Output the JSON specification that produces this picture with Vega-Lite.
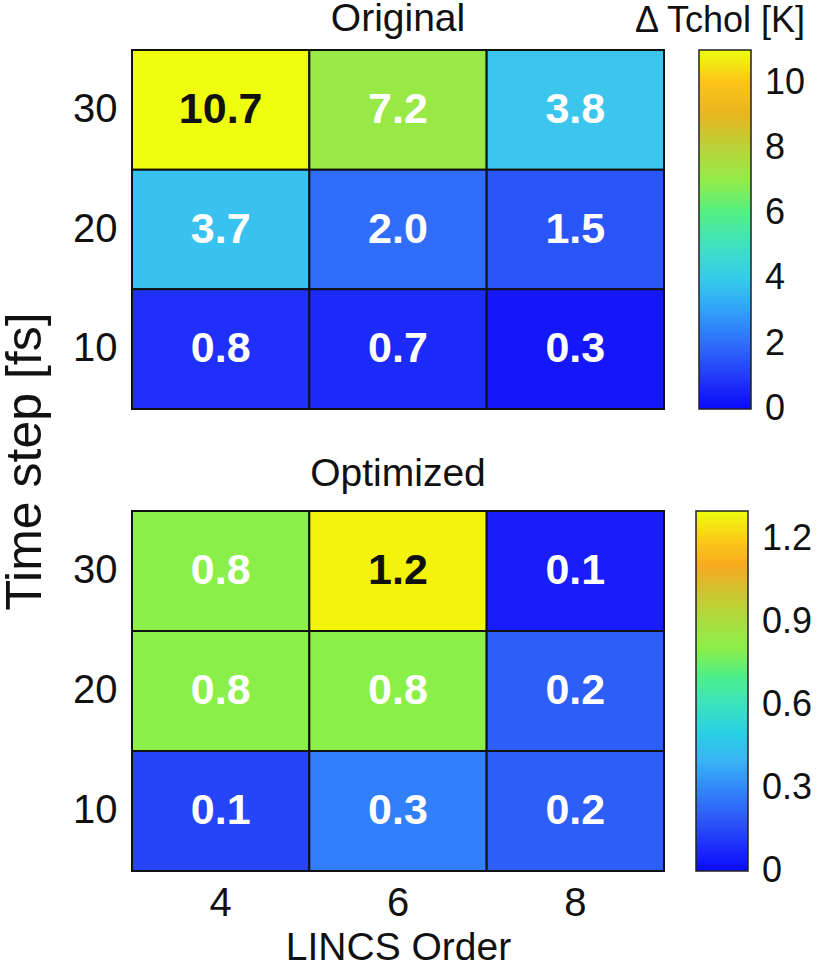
{
  "$schema": "https://vega.github.io/schema/vega-lite/v6.json",
  "padding": {"left": 0, "top": 0, "right": 0, "bottom": 0},
  "background": "white",
  "config": {
    "font": "Liberation Sans",
    "view": {"stroke": null},
    "axis": {"labelFontSize": 40, "titleFontSize": 39, "titleFontWeight": "normal", "labelColor": "#111", "titleColor": "#111", "ticks": false, "domain": false, "grid": false},
    "legend": {"labelFontSize": 36, "titleFontSize": 36, "titleFontWeight": "normal", "labelColor": "#111", "titleColor": "#111", "padding": 0},
    "title": {"fontSize": 39, "fontWeight": "normal", "color": "#111"}
  },
  "datasets": {
    "original": [
      {"lincs": 4, "dt": 30, "v": 10.7},
      {"lincs": 6, "dt": 30, "v": 7.2},
      {"lincs": 8, "dt": 30, "v": 3.8},
      {"lincs": 4, "dt": 20, "v": 3.7},
      {"lincs": 6, "dt": 20, "v": 2.0},
      {"lincs": 8, "dt": 20, "v": 1.5},
      {"lincs": 4, "dt": 10, "v": 0.8},
      {"lincs": 6, "dt": 10, "v": 0.7},
      {"lincs": 8, "dt": 10, "v": 0.3}
    ],
    "optimized": [
      {"lincs": 4, "dt": 30, "v": 0.8},
      {"lincs": 6, "dt": 30, "v": 1.24},
      {"lincs": 8, "dt": 30, "v": 0.06},
      {"lincs": 4, "dt": 20, "v": 0.8},
      {"lincs": 6, "dt": 20, "v": 0.8},
      {"lincs": 8, "dt": 20, "v": 0.2},
      {"lincs": 4, "dt": 10, "v": 0.14},
      {"lincs": 6, "dt": 10, "v": 0.28},
      {"lincs": 8, "dt": 10, "v": 0.2}
    ]
  },
  "bounds": "flush",
  "spacing": 102,
  "resolve": {"scale": {"color": "independent"}},
  "vconcat": [
    {
      "title": {"text": "Original", "offset": -35},
      "width": 532,
      "height": 359,
      "data": {"name": "original"},
      "encoding": {
        "x": {"field": "lincs", "type": "ordinal", "scale": {"paddingInner": 0, "paddingOuter": 0}, "axis": null},
        "y": {"field": "dt", "type": "ordinal", "sort": "descending", "scale": {"paddingInner": 0, "paddingOuter": 0},
              "axis": {"title": "Time step [fs]", "titleFontSize": 50, "titleY": 411, "labelPadding": 15, "titlePadding": 22}}
      },
      "layer": [
        {
          "mark": {"type": "rect", "stroke": "#111", "strokeWidth": 2},
          "encoding": {
            "color": {
              "field": "v", "type": "quantitative",
              "scale": {
                "domain": [0, 0.55, 1.1, 1.65, 2.2, 2.75, 3.3, 3.85, 4.95, 6.05, 6.71, 7.26, 8.25, 9.35, 10.12, 10.505, 10.725, 11],
                "range": ["#0a0afa", "#1a1efa", "#2640f8", "#2e5cf8", "#3476fa", "#3892fa", "#3cb0f4", "#40c8ec", "#42e0c4", "#55f080", "#88f04a", "#9ae846", "#c0cc3a", "#f8a820", "#fcc818", "#f2f40c", "#eefe0e", "#eeff0e"]
              },
              "legend": {
                "orient": "none", "legendX": 501, "legendY": -46, "direction": "vertical",
                "gradientLength": 359, "gradientThickness": 52,
                "gradientStrokeColor": "#222", "gradientStrokeWidth": 1.5,
                "title": "Δ Tchol [K]", "titleAnchor": "end", "titlePadding": 10,
                "values": [0, 2, 4, 6, 8, 10], "labelOffset": 14, "labelOverlap": false, "format": "~r",
                "encode": {"labels": {"update": {"baseline": {"value": "middle"}}}}
              }
            }
          }
        },
        {
          "mark": {"type": "text", "fontSize": 43, "fontWeight": "bold"},
          "encoding": {
            "text": {"field": "v", "type": "quantitative", "format": ".1f"},
            "color": {"condition": {"test": "datum.v > 9", "value": "#111"}, "value": "#ffffff"}
          }
        }
      ]
    },
    {
      "title": {"text": "Optimized", "offset": 16},
      "width": 532,
      "height": 360,
      "data": {"name": "optimized"},
      "encoding": {
        "x": {"field": "lincs", "type": "ordinal", "scale": {"paddingInner": 0, "paddingOuter": 0},
              "axis": {"title": "LINCS Order", "labelAngle": 0, "labelPadding": 12, "titlePadding": 5}},
        "y": {"field": "dt", "type": "ordinal", "sort": "descending", "scale": {"paddingInner": 0, "paddingOuter": 0},
              "axis": {"title": null, "labelPadding": 15}}
      },
      "layer": [
        {
          "mark": {"type": "rect", "stroke": "#111", "strokeWidth": 2},
          "encoding": {
            "color": {
              "field": "v", "type": "quantitative",
              "scale": {
                "domain": [0, 0.065, 0.13, 0.195, 0.26, 0.325, 0.39, 0.455, 0.585, 0.715, 0.793, 0.858, 0.975, 1.105, 1.196, 1.2415, 1.2675, 1.3],
                "range": ["#0a0afa", "#1a1efa", "#2640f8", "#2e5cf8", "#3476fa", "#3892fa", "#3cb0f4", "#40c8ec", "#42e0c4", "#55f080", "#88f04a", "#9ae846", "#c0cc3a", "#f8a820", "#fcc818", "#f2f40c", "#eefe0e", "#eeff0e"]
              },
              "legend": {
                "orient": "none", "legendX": 564, "legendY": 0, "direction": "vertical",
                "gradientLength": 360, "gradientThickness": 52,
                "gradientStrokeColor": "#222", "gradientStrokeWidth": 1.5,
                "title": null,
                "values": [0, 0.3, 0.6, 0.9, 1.2], "labelOffset": 14, "labelOverlap": false, "format": "~r",
                "encode": {"labels": {"update": {"baseline": {"value": "middle"}}}}
              }
            }
          }
        },
        {
          "mark": {"type": "text", "fontSize": 43, "fontWeight": "bold"},
          "encoding": {
            "text": {"field": "v", "type": "quantitative", "format": ".1f"},
            "color": {"condition": {"test": "datum.v > 1", "value": "#111"}, "value": "#ffffff"}
          }
        }
      ]
    }
  ]
}
